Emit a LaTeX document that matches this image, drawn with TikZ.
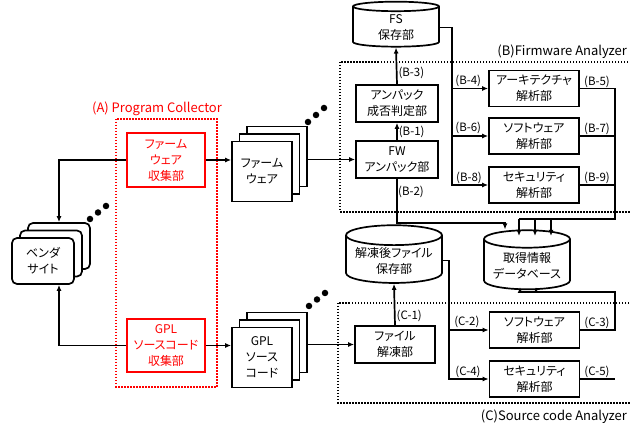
\documentclass[tikz,border=0pt]{standalone}
\usepackage{fontspec}
\setmainfont{Noto Sans CJK JP}[RawFeature=+palt]
\usetikzlibrary{shapes.geometric, arrows.meta}

\begin{document}
\begin{tikzpicture}
[ x=1pt, y=-1pt
, every node/.style={font=\fontsize{12}{16}\selectfont}
, wire/.style={line width=1.7pt}
, arr/.style={wire, -{Latex[length=6pt, width=5pt]}}
, box/.style={rectangle, draw, line width=1.7pt, fill=white, align=center, inner sep=1pt}
, collector/.style={box, draw=red, text=red}
, unit/.style={box, minimum width=90, minimum height=36}
, doc/.style={box, minimum width=60, minimum height=60}
, site/.style={box, rounded corners=5pt, minimum width=62, minimum height=46}
, store/.style={cylinder, shape border rotate=90, aspect=0.25, draw, line width=1.7pt, fill=white, align=center, inner sep=1pt}
, lbl/.style={font=\fontsize{11.5}{13}\selectfont, inner sep=1pt}
, title/.style={font=\fontsize{13}{15}\selectfont, inner sep=1pt}
, frame/.style={line width=1.6pt, dash pattern=on 1.5pt off 1.5pt}
, dot/.style={circle, fill, inner sep=0pt, minimum size=6.5}
]
\useasboundingbox (0,0) rectangle (630,427);

% Frames
\draw [frame, red] (116,119) rectangle (217,387);
\node (alabel) [title, red] at (157,109) {(A) Program Collector};
\draw [frame] (340,62) rectangle (634,212);
\node (blabel) [title, anchor=east] at (628,52) {(B)Firmware Analyzer};
\draw [frame] (338,303) rectangle (634,403);
\node (clabel) [title, anchor=east] at (628,417) {(C)Source code Analyzer};

% Vendor sites
\node (site3) [site] at (59,246) {};
\node (site2) [site] at (51,253.5) {};
\node (site) [site] at (43,261) {ベンダ\\サイト};

% Collectors
\node (fwcol) [collector, minimum width=78, minimum height=54] at (166,160) {ファーム\\ウェア\\収集部};
\node (gplcol) [collector, minimum width=78, minimum height=53] at (166,345.5) {GPL\\ソースコード\\収集部};

% Collected programs
\node (fwdoc3) [doc] at (277,156.5) {};
\node (fwdoc2) [doc] at (269.5,164) {};
\node (fwdoc) [doc] at (262,171.5) {ファーム\\ウェア};
\node (gpldoc3) [doc] at (277,342.5) {};
\node (gpldoc2) [doc] at (269.5,350) {};
\node (gpldoc) [doc] at (262,357.5) {GPL\\ソース\\コード};

\foreach \x/\y in {90/219, 98/212.5, 106/206, 308/122, 316/115, 324/108, 309/306, 317/299.5, 325/293}
  \node [dot] at (\x,\y) {};

% Firmware analyzer
\node (fs) [store, minimum width=86, minimum height=45] at (396,27.5) {FS\\保存部};
\node (judge) [box, minimum width=82, minimum height=37] at (397,103.5) {アンパック\\成否判定部};
\node (unpack) [box, minimum width=82, minimum height=37] at (397,159.5) {FW\\アンパック部};
\node (arch) [unit] at (534,88.5) {アーキテクチャ\\解析部};
\node (bsoft) [unit] at (534,136) {ソフトウェア\\解析部};
\node (bsec) [unit] at (534,185) {セキュリティ\\解析部};

% Database
\node (db) [store, minimum width=86, minimum height=59] at (527,265.5) {取得情報\\データベース};

% Source code analyzer
\node (thawstore) [store, minimum width=96, minimum height=45] at (394,260.5) {解凍後ファイル\\保存部};
\node (thaw) [box, minimum width=80, minimum height=37] at (395,344.5) {ファイル\\解凍部};
\node (csoft) [unit] at (534.5,330) {ソフトウェア\\解析部};
\node (csec) [unit] at (534.5,379) {セキュリティ\\解析部};

\coordinate (bsplit) at (452,0);
\coordinate (bmerge) at (615,219);
\coordinate (b2turn) at (505,223);
\coordinate (csplit) at (449,0);
\coordinate (cmerge) at (615,292);

% Collection
\draw [arr] (fwcol.west) -| (site3.north);
\draw [arr] (gplcol.west) -| (site3.north |- site.south);
\draw [arr] (fwcol.east) -- (fwcol.east -| fwdoc.west);
\draw [arr] (gplcol.east) -- (gplcol.east -| gpldoc.west);
\draw [arr] (fwdoc3.east |- unpack.west) -- (unpack.west);
\draw [arr] (gpldoc3.east |- thaw.west) -- (thaw.west);

% Firmware flow
\draw [arr] (unpack.north) -- (judge.south) node [lbl, right, midway] {(B-1)};
\draw [arr] (judge.north) -- (fs.south) node [lbl, right, pos=0.3] {(B-3)};
\draw [arr] (unpack.south) |- (b2turn) -- (b2turn |- db.north);
\node (b2) [lbl] at (411,192) {(B-2)};
\draw [arr] (fs.east) -| (bsplit |- bsec.west) -- (bsec.west);
\draw [arr] (bsplit |- arch.west) -- (arch.west) node [lbl, above, pos=0.45] {(B-4)};
\draw [arr] (bsplit |- bsoft.west) -- (bsoft.west) node [lbl, above, pos=0.45] {(B-6)};
\node [lbl, above] at (469,185) {(B-8)};
\draw [wire] (arch.east) -| (bmerge) -- (519,219);
\draw [wire] (bsoft.east) -- (bmerge |- bsoft.east);
\draw [wire] (bsec.east) -- (bmerge |- bsec.east);
\node [lbl, above] at (597,88.5) {(B-5)};
\node [lbl, above] at (597,136) {(B-7)};
\node [lbl, above] at (597,185) {(B-9)};
\foreach \x in {519,535,551}
  \draw [arr] (\x,219) -- (\x,236);

% Source code flow
\draw [arr] (thaw.north) -- (thawstore.south) node [lbl, right, pos=0.23] {(C-1)};
\draw [arr] (thawstore.east) -| (csplit |- csec.west) -- (csec.west);
\draw [arr] (csplit |- csoft.west) -- (csoft.west) node [lbl, above, pos=0.45] {(C-2)};
\node [lbl, above] at (468,379) {(C-4)};
\draw [wire] (csoft.east) -| (cmerge) -- (520,292);
\draw [wire] (csec.east) -- (cmerge |- csec.east);
\node [lbl, above] at (597,330) {(C-3)};
\node [lbl, above] at (597,379) {(C-5)};
\foreach \x in {520,536}
  \draw [arr] (\x,292) -- (\x,287);
\end{tikzpicture}
\end{document}
